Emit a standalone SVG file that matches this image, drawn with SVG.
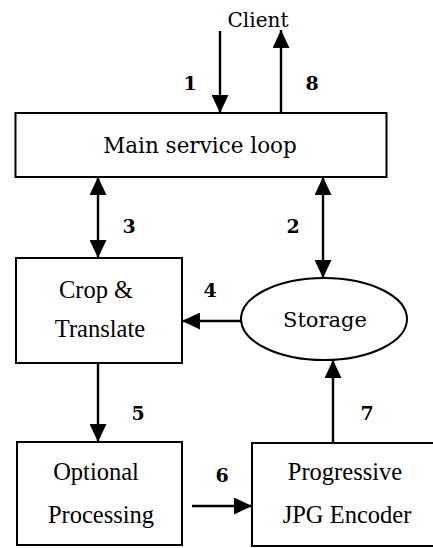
<svg xmlns="http://www.w3.org/2000/svg" width="433" height="548" viewBox="0 0 433 548">
<style>
.box{fill:#fff;stroke:#000;stroke-width:2}
.c{fill:none;stroke:#000;stroke-width:2.4}
.t1{font-family:"DejaVu Serif","Liberation Serif",serif;fill:#000;text-anchor:middle}
.t2{font-family:"Liberation Serif","Times New Roman",serif;fill:#000;text-anchor:middle;font-size:24.5px}
.n{font-family:"DejaVu Serif","Liberation Serif",serif;fill:#000;text-anchor:middle;font-size:19px;font-weight:bold}
</style>
<defs>
<marker id="ah" markerUnits="userSpaceOnUse" markerWidth="18" markerHeight="17" refX="18" refY="8.5" orient="auto-start-reverse" viewBox="0 0 18 17">
<path d="M0,0 L18,8.5 L0,17 Z" fill="#000"/>
</marker>
</defs>
<rect width="433" height="548" fill="#fff"/>
<g id="client"><text class="t1" x="258" y="27" font-size="20">Client</text></g>
<g id="main"><rect class="box" x="15.5" y="113" width="371" height="64"/><text class="t1" x="200" y="153" font-size="21.5">Main service loop</text></g>
<g id="crop"><rect class="box" x="16" y="258" width="166" height="105"/><text class="t2" x="96" y="298">Crop &amp;</text><text class="t2" x="100" y="337">Translate</text></g>
<g id="storage"><ellipse class="box" cx="324" cy="319" rx="83" ry="41"/><text class="t1" x="325" y="327" font-size="21">Storage</text></g>
<g id="optional"><rect class="box" x="17" y="442" width="165" height="103"/><text class="t2" x="96" y="480">Optional</text><text class="t2" x="101" y="523">Processing</text></g>
<g id="encoder"><rect class="box" x="252" y="443" width="186" height="103"/><text class="t2" x="345" y="480">Progressive</text><text class="t2" x="347" y="523">JPG Encoder</text></g>
<g id="connectors">
<line class="c" x1="220" y1="31" x2="220" y2="113" marker-end="url(#ah)"/>
<line class="c" x1="281" y1="113" x2="281" y2="30" marker-end="url(#ah)"/>
<line class="c" x1="98" y1="177" x2="98" y2="258" marker-start="url(#ah)" marker-end="url(#ah)"/>
<line class="c" x1="323" y1="177" x2="323" y2="278" marker-start="url(#ah)" marker-end="url(#ah)"/>
<line class="c" x1="241" y1="321" x2="182" y2="321" marker-end="url(#ah)"/>
<line class="c" x1="98" y1="363" x2="98" y2="442" marker-end="url(#ah)"/>
<line class="c" x1="192" y1="506" x2="252" y2="506" marker-end="url(#ah)"/>
<line class="c" x1="333" y1="443" x2="333" y2="360" marker-end="url(#ah)"/>
<text class="n" x="190" y="90">1</text>
<text class="n" x="312" y="90">8</text>
<text class="n" x="129" y="233">3</text>
<text class="n" x="293" y="233">2</text>
<text class="n" x="210" y="297">4</text>
<text class="n" x="138" y="420">5</text>
<text class="n" x="222" y="482">6</text>
<text class="n" x="367" y="420">7</text>
</g>
</svg>
